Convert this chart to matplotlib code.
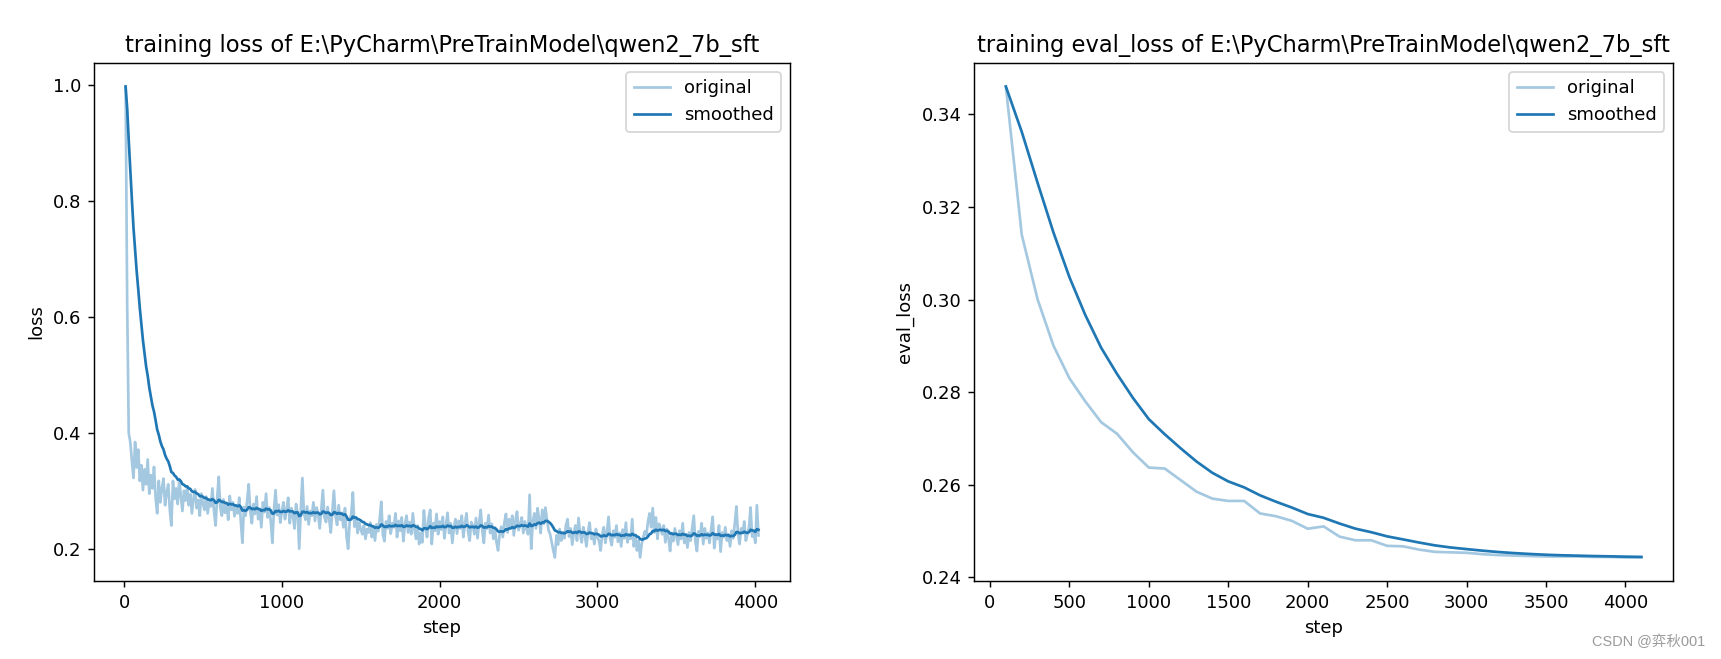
"""Кривые обучения: training loss и eval_loss."""

import matplotlib
matplotlib.use("Agg")
import matplotlib.pyplot as plt
import numpy as np

title_path = "E:\\PyCharm\\PreTrainModel\\qwen2_7b_sft"

# training loss, шаг логирования 10
train_steps = list(range(10, 4030, 10))
train_loss = [
    0.998, 0.62, 0.40, 0.384, 0.352, 0.323, 0.385, 0.341, 0.372, 0.318,
    0.345, 0.302, 0.338, 0.312, 0.355, 0.296, 0.328, 0.305, 0.342, 0.289,
    0.262, 0.318, 0.281, 0.305, 0.322, 0.276, 0.298, 0.312, 0.268, 0.241,
    0.318, 0.287, 0.305, 0.278, 0.321, 0.292, 0.266, 0.301, 0.284, 0.308,
    0.276, 0.295, 0.262, 0.288, 0.303, 0.271, 0.285, 0.258, 0.296, 0.279,
    0.268, 0.291, 0.262, 0.283, 0.274, 0.305, 0.266, 0.241, 0.288, 0.325,
    0.272, 0.258, 0.286, 0.263, 0.279, 0.251, 0.292, 0.268, 0.281, 0.257,
    0.275, 0.262, 0.289, 0.248, 0.211, 0.273, 0.258, 0.284, 0.312, 0.266,
    0.245, 0.278, 0.261, 0.291, 0.252, 0.269, 0.238, 0.281, 0.264, 0.296,
    0.255, 0.272, 0.248, 0.211, 0.268, 0.302, 0.259, 0.277, 0.246, 0.265,
    0.281, 0.252, 0.268, 0.289, 0.245, 0.271, 0.259, 0.236, 0.278, 0.262,
    0.201, 0.268, 0.323, 0.262, 0.251, 0.274, 0.243, 0.266, 0.258, 0.281,
    0.249, 0.272, 0.261, 0.236, 0.268, 0.302, 0.255, 0.247, 0.273, 0.252,
    0.229, 0.266, 0.301, 0.258, 0.242, 0.276, 0.251, 0.263, 0.238, 0.271,
    0.222, 0.201, 0.248, 0.262, 0.298, 0.239, 0.255, 0.228, 0.246, 0.234,
    0.226, 0.241, 0.218, 0.235, 0.229, 0.246, 0.221, 0.238, 0.215, 0.243,
    0.231, 0.252, 0.282, 0.225, 0.214, 0.248, 0.236, 0.258, 0.227, 0.245,
    0.238, 0.262, 0.221, 0.249, 0.232, 0.255, 0.214, 0.243, 0.258, 0.229,
    0.247, 0.226, 0.262, 0.235, 0.218, 0.241, 0.209, 0.228, 0.212, 0.267,
    0.239, 0.221, 0.254, 0.268, 0.209, 0.245, 0.232, 0.261, 0.226, 0.248,
    0.234, 0.256, 0.219, 0.242, 0.263, 0.228, 0.245, 0.211, 0.238, 0.252,
    0.227, 0.249, 0.236, 0.258, 0.221, 0.244, 0.262, 0.231, 0.215, 0.247,
    0.241, 0.226, 0.254, 0.219, 0.247, 0.268, 0.232, 0.211, 0.245, 0.236,
    0.259, 0.228, 0.244, 0.218, 0.235, 0.212, 0.198, 0.226, 0.239, 0.221,
    0.246, 0.261, 0.229, 0.252, 0.237, 0.258, 0.224, 0.249, 0.265, 0.233,
    0.242, 0.255, 0.228, 0.248, 0.235, 0.226, 0.294, 0.201, 0.247, 0.262,
    0.236, 0.271, 0.253, 0.228, 0.268, 0.244, 0.272, 0.251, 0.233, 0.226,
    0.212, 0.198, 0.186, 0.224, 0.208, 0.235, 0.215, 0.229, 0.219, 0.241,
    0.252, 0.222, 0.236, 0.208, 0.228, 0.241, 0.215, 0.254, 0.226, 0.212,
    0.238, 0.224, 0.205, 0.231, 0.246, 0.218, 0.227, 0.209, 0.235, 0.221,
    0.214, 0.198, 0.226, 0.238, 0.211, 0.229, 0.256, 0.219, 0.207, 0.232,
    0.221, 0.241, 0.213, 0.228, 0.205, 0.234, 0.219, 0.246, 0.212, 0.226,
    0.218, 0.252, 0.205, 0.224, 0.198, 0.215, 0.186, 0.209, 0.221, 0.231,
    0.225, 0.248, 0.262, 0.238, 0.271, 0.229, 0.255, 0.218, 0.244, 0.236,
    0.226, 0.241, 0.212, 0.235, 0.219, 0.197, 0.228, 0.214, 0.236, 0.222,
    0.208, 0.232, 0.218, 0.245, 0.211, 0.226, 0.203, 0.229, 0.215, 0.237,
    0.258, 0.214, 0.197, 0.231, 0.222, 0.245, 0.209, 0.236, 0.219, 0.228,
    0.211, 0.235, 0.256, 0.202, 0.226, 0.218, 0.241, 0.196, 0.229, 0.221,
    0.238, 0.215, 0.226, 0.205, 0.232, 0.219, 0.244, 0.274, 0.228, 0.209,
    0.236, 0.228, 0.248, 0.215, 0.226, 0.238, 0.272, 0.222, 0.229, 0.211,
    0.276, 0.224,
]

# eval_loss, каждые 100 шагов
eval_steps = list(range(100, 4200, 100))
eval_loss = [
    0.346, 0.314, 0.300, 0.290, 0.283, 0.278, 0.2735, 0.271, 0.267, 0.2637,
    0.2635, 0.261, 0.2585, 0.257, 0.2565, 0.2565, 0.2538, 0.2532, 0.2522, 0.2505,
    0.251, 0.2488, 0.248, 0.248, 0.2468, 0.2467, 0.2460, 0.2455, 0.2454, 0.2453,
    0.2450, 0.2448, 0.2447, 0.2446, 0.2445, 0.2445, 0.2445, 0.2444, 0.2444, 0.2443,
    0.2443,
]


def smooth(scalars):
    """EMA-сглаживание как в LLaMA-Factory."""
    if len(scalars) == 0:
        return []
    last = scalars[0]
    smoothed = []
    weight = 1.8 * (1 / (1 + np.exp(-0.05 * len(scalars))) - 0.5)
    for next_val in scalars:
        smoothed_val = last * weight + (1 - weight) * next_val
        smoothed.append(smoothed_val)
        last = smoothed_val
    return smoothed


fig = plt.figure(figsize=(1721 / 130, 659 / 130), dpi=130)
ax1 = fig.add_axes([0.0546, 0.1184, 0.4045, 0.786])
ax2 = fig.add_axes([0.566, 0.1184, 0.4062, 0.786])

for ax, steps, values, key in [
    (ax1, train_steps, train_loss, "loss"),
    (ax2, eval_steps, eval_loss, "eval_loss"),
]:
    ax.plot(steps, values, color="#1f77b4", alpha=0.4, label="original")
    ax.plot(steps, smooth(values), color="#1f77b4", label="smoothed")
    ax.legend()
    ax.set_title("training {} of {}".format(key, title_path), fontsize=12.5)
    ax.set_xlabel("step")
    ax.set_ylabel(key)

ax1.set_xticks(range(0, 4001, 1000))
ax1.set_yticks([0.2, 0.4, 0.6, 0.8, 1.0])
ax2.set_xticks(range(0, 4001, 500))
ax2.set_yticks([0.24, 0.26, 0.28, 0.30, 0.32, 0.34])

fig.text(0.991, 0.026, "CSDN @弈秋001", ha="right", va="center", fontsize=8,
         color="#9a9a9a", family=["Liberation Sans", "Noto Sans CJK SC"])

fig.savefig("out.png", dpi=130)
plt.close(fig)
